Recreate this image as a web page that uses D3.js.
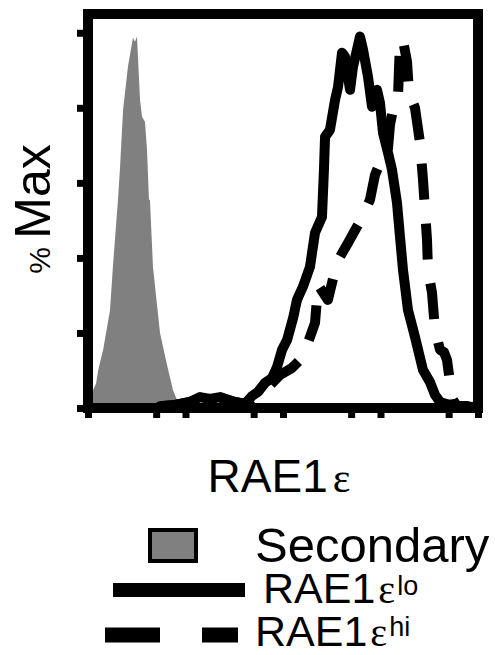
<!DOCTYPE html>
<html>
<head>
<meta charset="utf-8">
<script src="https://cdn.jsdelivr.net/npm/d3@7/dist/d3.min.js"></script>
<style>
  body { margin: 0; background: #fff; }
  text { font-family: "Liberation Sans", Arial, sans-serif; fill: #000; }
  .eps { font-family: "Liberation Serif", "Times New Roman", serif; }
</style>
</head>
<body>
<div class="graphic"></div>
<script>
// fluorescence intensity (log axis) and % of max for each histogram
var secondaryX = [1.0, 1.13, 1.21, 1.27, 1.43, 1.68, 1.8, 2.03, 2.13, 2.29, 2.57, 2.89, 3.03, 3.18, 3.42, 3.58, 3.84, 4.03, 4.22, 4.32, 4.64, 5.48, 6.46, 7.44, 8.18, 9.2, 10.1];
var secondaryY = [7.5, 4.8, 6.5, 10, 15.5, 26, 37.6, 55.5, 64, 79.5, 91, 98.7, 97.6, 99, 82, 77.6, 76.3, 68.8, 55.5, 55.5, 37.6, 20, 11.5, 4.8, 2.1, 0.5, 0];

var loX = [5.48, 7.8, 11.1, 14.1, 17.8, 22.6, 32.2, 40.8, 48.1, 55.4, 65.4, 77.1, 86.8, 97.7, 110, 127, 139, 160, 189, 213, 251, 263, 270, 303, 342, 367, 403, 432, 487, 522, 574, 616, 662, 744, 818, 921, 988, 1061, 1194, 1312, 1476, 1585, 1701, 1914, 2258, 2729, 3219, 3622, 4077, 5541, 7713];
var loY = [0.5, 0.8, 1.6, 2.9, 2.4, 2.9, 1.6, 1.1, 3.2, 4.3, 6.7, 8, 10.9, 15.5, 18.1, 24, 28.8, 32.3, 37.6, 46.7, 50.9, 63.5, 72.3, 74.1, 82.1, 85.6, 94.7, 93.6, 84.8, 90.9, 95.5, 99, 95.5, 88.3, 80.3, 84.8, 81.3, 73.3, 68, 63.5, 54.7, 45.6, 36.8, 26.1, 18.9, 10.1, 6.9, 3.5, 1.6, 0.5, 0.5];

var hiX = [5.48, 7.8, 11.1, 14.1, 17.8, 22.6, 32.2, 40.8, 51.6, 60.9, 73.6, 93.1, 124, 160, 213, 229, 289, 358, 464, 646, 780, 878, 988, 1166, 1252, 1408, 1512, 1585, 1701, 1870, 1960, 2258, 2542, 2729, 2860, 3000, 3070, 3375, 3622, 4077, 4480, 4811, 5162, 5541, 6091, 9316];
var hiY = [0.5, 0.8, 1.6, 2.7, 2.1, 2.7, 1.6, 1.1, 3.2, 4.8, 6.1, 8.8, 10.7, 13.6, 22.7, 32.8, 28.8, 38.9, 44, 50.7, 55.5, 62.1, 65.3, 66.1, 75.5, 82.1, 82.9, 98, 98, 92.3, 84, 80, 70.7, 60.8, 52.8, 44.8, 36.8, 30.7, 20.8, 15.5, 14.9, 12.8, 6.9, 2.1, 0.5, 0.3];

var yTicks = [0, 20, 40, 60, 80, 100];
var xTicks = [1, 5, 10, 50, 100, 500, 1000, 5000, 10000];
var legendLabels = ["Secondary", "RAE1", "RAE1"];
var legendSups = ["", "lo", "hi"];

const width = 495, height = 655;

d3.select(".graphic").selectAll("*").remove();

var svg = d3.select(".graphic")
  .append("svg")
  .attr("width", width)
  .attr("height", height);

var x = d3.scaleLog().domain([1, 10000]).range([88, 478]);
var y = d3.scaleLinear().domain([0, 105]).range([408, 14]);

const toPoints = (xs, ys) => xs.map((v, i) => [v, ys[i]]);

var area = d3.area()
  .x(d => x(d[0]))
  .y0(y(0))
  .y1(d => y(d[1]));

var line = d3.line()
  .x(d => x(d[0]))
  .y(d => y(d[1]));

const setAxes = () => {
  var yAxis = svg.append("g")
    .attr("transform", `translate(${x(1)},0)`)
    .call(d3.axisLeft(y).tickValues(yTicks).tickSize(11).tickFormat(""));
  yAxis.select(".domain").remove();
  yAxis.selectAll("line").attr("stroke", "#000").attr("stroke-width", 7);

  var xAxis = svg.append("g")
    .attr("transform", `translate(0,${y(0)})`)
    .call(d3.axisBottom(x).tickValues(xTicks).tickSize(10).tickFormat(""));
  xAxis.select(".domain").remove();
  xAxis.selectAll("line").attr("stroke", "#000").attr("stroke-width", 7);
}

const setHistograms = () => {
  svg.append("path")
    .attr("d", area(toPoints(secondaryX, secondaryY)))
    .attr("fill", "#808080");

  svg.append("path")
    .attr("d", line(toPoints(loX, loY)))
    .attr("fill", "none")
    .attr("stroke", "#000")
    .attr("stroke-width", 10)
    .attr("stroke-linejoin", "round")
    .attr("stroke-linecap", "round");

  svg.append("path")
    .attr("d", line(toPoints(hiX, hiY)))
    .attr("fill", "none")
    .attr("stroke", "#000")
    .attr("stroke-width", 10)
    .attr("stroke-linejoin", "round")
    .attr("stroke-dasharray", "36,24");
}

const setFrame = () => {
  svg.append("rect")
    .attr("x", x(1))
    .attr("y", y(105))
    .attr("width", x(10000) - x(1))
    .attr("height", y(0) - y(105))
    .attr("fill", "none")
    .attr("stroke", "#000")
    .attr("stroke-width", 10);
}

const setLabels = () => {
  var yl = svg.append("text")
    .attr("transform", "translate(50,209) rotate(-90)")
    .attr("text-anchor", "middle");
  yl.append("tspan").attr("font-size", 30).text("% ");
  yl.append("tspan").attr("font-size", 50).text("Max");

  var xl = svg.append("text")
    .attr("x", 279)
    .attr("y", 492)
    .attr("text-anchor", "middle");
  xl.append("tspan").attr("font-size", 46).text("RAE1");
  xl.append("tspan").attr("class", "eps").attr("font-size", 42).attr("dx", 5).text("ε");
}

const setLegend = () => {
  svg.append("rect")
    .attr("x", 150).attr("y", 530)
    .attr("width", 46).attr("height", 31)
    .attr("fill", "#808080")
    .attr("stroke", "#000")
    .attr("stroke-width", 4);

  svg.append("line")
    .attr("x1", 113).attr("x2", 245)
    .attr("y1", 590).attr("y2", 590)
    .attr("stroke", "#000").attr("stroke-width", 14);

  svg.append("line")
    .attr("x1", 105).attr("x2", 238)
    .attr("y1", 635).attr("y2", 635)
    .attr("stroke", "#000").attr("stroke-width", 15)
    .attr("stroke-dasharray", "55,42");

  svg.append("text")
    .attr("x", 255).attr("y", 562)
    .attr("font-size", 49)
    .text(legendLabels[0]);

  var rows = [{ x: 263, y: 603, shift: -8 }, { x: 255, y: 646, shift: -10 }];
  rows.forEach((r, i) => {
    var t = svg.append("text").attr("x", r.x).attr("y", r.y);
    t.append("tspan").attr("font-size", 43).text(legendLabels[i + 1]);
    t.append("tspan").attr("class", "eps").attr("font-size", 40).attr("dx", 3).text("ε");
    t.append("tspan").attr("font-size", 27).attr("dx", 2).attr("dy", r.shift).text(legendSups[i + 1]);
  });
}

setAxes();
setHistograms();
setFrame();
setLabels();
setLegend();
</script>
</body>
</html>
